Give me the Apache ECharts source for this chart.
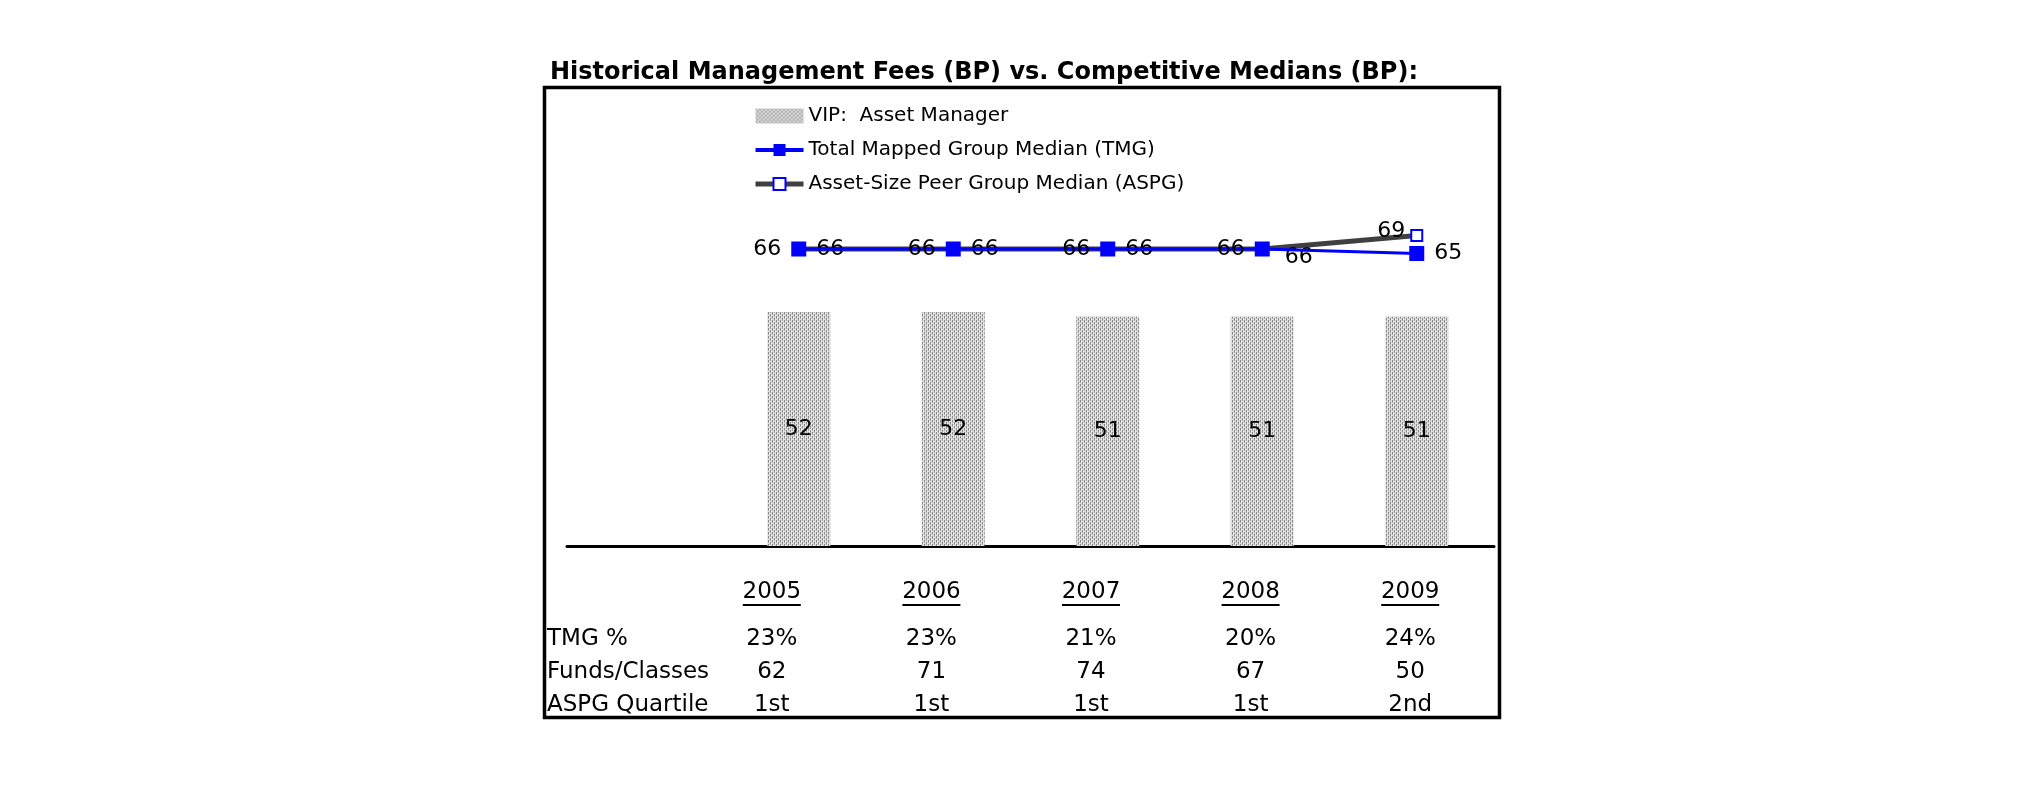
<!DOCTYPE html>
<html>
<head>
<meta charset="utf-8">
<script src="https://cdn.jsdelivr.net/npm/echarts@6/dist/echarts.min.js"></script>
<style>
html,body{margin:0;padding:0;background:#fff;}
#chart{width:2025px;height:806px;}
</style>
</head>
<body>
<div id="chart"></div>
<script>
// ---- data ----
var years = ['2005', '2006', '2007', '2008', '2009'];
var vipFees = [52, 52, 51, 51, 51];
var tmgMedian = [66, 66, 66, 66, 65];
var aspgMedian = [66, 66, 66, 66, 69];
var rowHeaders = ['TMG %', 'Funds/Classes', 'ASPG Quartile'];
var tmgPct = ['23%', '23%', '21%', '20%', '24%'];
var fundsClasses = ['62', '71', '74', '67', '50'];
var aspgQuartile = ['1st', '1st', '1st', '1st', '2nd'];
var seriesNames = ['VIP:  Asset Manager', 'Total Mapped Group Median (TMG)', 'Asset-Size Peer Group Median (ASPG)'];
var titleText = 'Historical Management Fees (BP) vs. Competitive Medians (BP):';

// ---- styling helpers ----
var FONT = 'DejaVu Sans, Verdana, sans-serif';
function makePattern() {
  var c = document.createElement('canvas');
  c.width = 4; c.height = 4;
  var g = c.getContext('2d');
  g.fillStyle = '#dcdcdc'; g.fillRect(0, 0, 4, 4);
  g.fillStyle = '#8a8a8a';
  [[0,0],[0,1],[2,2],[2,3]].forEach(function(p){ g.fillRect(p[0], p[1], 1, 1); });
  g.fillStyle = '#b4b4b4';
  [[2,0],[0,2]].forEach(function(p){ g.fillRect(p[0], p[1], 1, 1); });
  g.fillStyle = '#f0f0f0';
  [[1,1],[3,3]].forEach(function(p){ g.fillRect(p[0], p[1], 1, 1); });
  return c;
}
var pattern = { image: makePattern(), repeat: 'repeat' };

var xCats = [''].concat(years);
var barData = [null].concat(vipFees);

var tmgLabelPos = ['left', 'left', 'left', 'left', 'right'];
var aspgLabelCfg = [
  { position: 'right', distance: 11 },
  { position: 'right', distance: 11 },
  { position: 'right', distance: 11 },
  { position: 'right', distance: 16, offset: [0, 8] },
  { position: 'left', distance: 5, offset: [0, -4] }
];

var tmgData = [{ value: null }].concat(tmgMedian.map(function (v, i) {
  return { value: v, label: { position: tmgLabelPos[i], distance: 10 } };
}));
var aspgData = [{ value: null }].concat(aspgMedian.map(function (v, i) {
  return { value: v, label: aspgLabelCfg[i] };
}));

var tableRows = [tmgPct, fundsClasses, aspgQuartile];
var tableData = [];
tableRows.forEach(function (row, r) {
  row.forEach(function (v, i) { tableData.push([i, r]); });
});

var chart = echarts.init(document.getElementById('chart'), null, { renderer: 'canvas' });
var option = {
  animation: false,
  backgroundColor: '#fff',
  textStyle: { fontFamily: FONT },
  title: {
    text: titleText,
    left: 545, top: 56,
    textStyle: { fontFamily: FONT, fontSize: 24, fontWeight: 'bold', color: '#000' }
  },
  legend: {
    orient: 'vertical',
    left: 748, top: 101, padding: 5,
    itemWidth: 48, itemHeight: 15, itemGap: 14,
    textStyle: { fontFamily: FONT, fontSize: 20, color: '#000' },
    data: [
      { name: seriesNames[0], icon: 'rect' },
      { name: seriesNames[1], lineStyle: { width: 4, color: '#0000ff' } },
      { name: seriesNames[2], lineStyle: { width: 5, color: '#404040' } }
    ]
  },
  grid: [
    { left: 567, right: 531, top: 186, bottom: 260, containLabel: false },
    { left: 692, right: 535, top: 623, bottom: 85, containLabel: false }
  ],
  xAxis: [
    {
      type: 'category', gridIndex: 0, data: xCats,
      axisLine: { show: true, lineStyle: { color: '#000', width: 3 } },
      axisTick: { show: false }, axisLabel: { show: false }, splitLine: { show: false }
    },
    {
      type: 'category', gridIndex: 1, data: years, position: 'top',
      axisLine: { show: false }, axisTick: { show: false }, splitLine: { show: false },
      axisLabel: {
        margin: 16,
        formatter: function (v) { return '{y|' + v + '}\n{u|\u00a0}'; },
        rich: {
          y: { fontFamily: FONT, fontSize: 23, lineHeight: 21, color: '#000' },
          u: { width: 58, height: 2, lineHeight: 4, backgroundColor: '#000', fontSize: 2 }
        }
      }
    }
  ],
  yAxis: [
    { type: 'value', gridIndex: 0, min: 0, max: 80, show: false },
    {
      type: 'category', gridIndex: 1, data: rowHeaders, inverse: true,
      axisLine: { show: false }, axisTick: { show: false }, splitLine: { show: false },
      axisLabel: { align: 'left', margin: 145, fontFamily: FONT, fontSize: 23, color: '#000' }
    }
  ],
  series: [
    {
      name: seriesNames[0], type: 'bar', xAxisIndex: 0, yAxisIndex: 0,
      data: barData, barWidth: 63,
      itemStyle: { color: pattern },
      label: { show: true, position: 'inside', fontFamily: FONT, fontSize: 22, color: '#000', textBorderWidth: 0 }
    },
    {
      name: seriesNames[2], type: 'line', xAxisIndex: 0, yAxisIndex: 0,
      data: aspgData, symbol: 'emptyRect', symbolSize: 11, showAllSymbol: true,
      lineStyle: { color: '#404040', width: 5 },
      itemStyle: { color: '#0000ff', borderColor: '#0000ff', borderWidth: 2 },
      label: { show: true, fontFamily: FONT, fontSize: 22, color: '#000' },
      z: 3
    },
    {
      name: seriesNames[1], type: 'line', xAxisIndex: 0, yAxisIndex: 0,
      data: tmgData, symbol: 'rect', symbolSize: 15, showAllSymbol: true,
      lineStyle: { color: '#0000ff', width: 3 },
      itemStyle: { color: '#0000ff' },
      label: { show: true, fontFamily: FONT, fontSize: 22, color: '#000' },
      z: 4
    },
    {
      name: 'table', type: 'scatter', xAxisIndex: 1, yAxisIndex: 1,
      data: tableData, symbolSize: 1, itemStyle: { color: '#fff', opacity: 1 },
      silent: true,
      label: {
        show: true, position: 'inside', fontFamily: FONT, fontSize: 23, color: '#000',
        textBorderWidth: 0, opacity: 1,
        formatter: function (p) { return tableRows[p.value[1]][p.value[0]]; }
      }
    }
  ],
  graphic: [
    {
      type: 'rect', silent: true, z: 10,
      shape: { x: 544.5, y: 87.5, width: 955, height: 630 },
      style: { fill: 'none', stroke: '#000', lineWidth: 3.5 }
    }
  ]
};
chart.setOption(option);
</script>
</body>
</html>
